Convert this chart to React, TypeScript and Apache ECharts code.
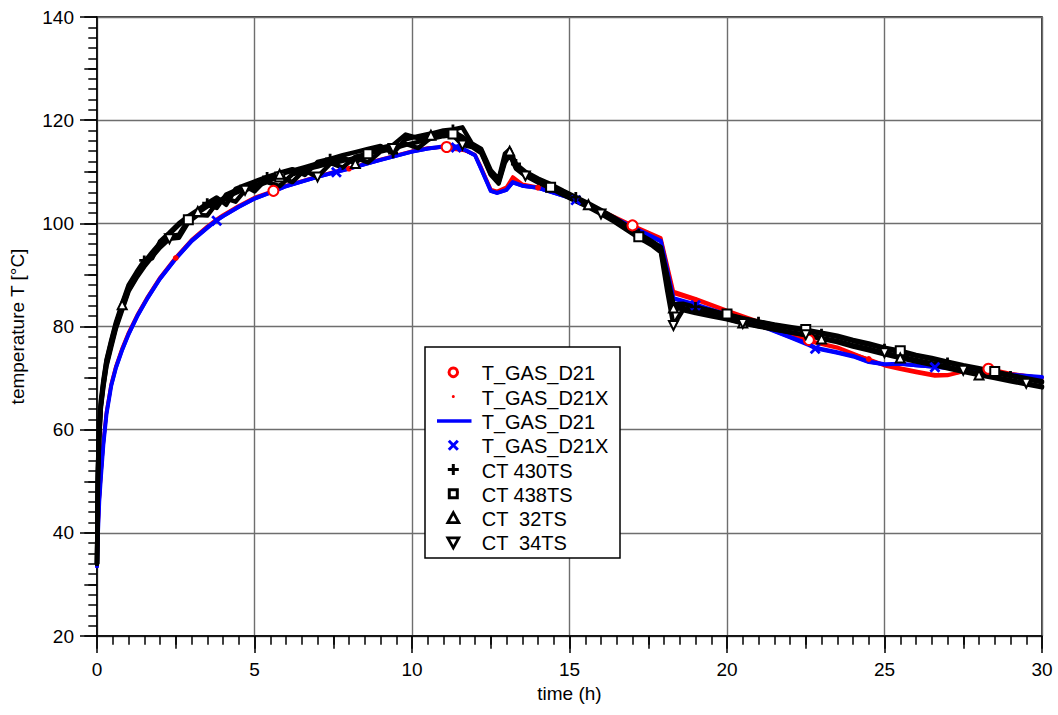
import React, { useEffect, useRef } from "react";
import * as echarts from "echarts";

// Time grid of the simulation runs (h)
const tSim = [0, 0.03, 0.07, 0.12, 0.2, 0.3, 0.45, 0.6, 0.8, 1.0, 1.3, 1.6, 2.0, 2.5, 3.0, 3.5, 3.8, 4.0, 4.5, 5.0, 5.6, 6.0, 7.0, 7.6, 8.0, 9.0, 10.0, 10.5, 11.1, 11.4, 11.7, 12.0, 12.2, 12.5, 12.7, 13.0, 13.2, 13.5, 14.0, 15.2, 16.0, 17.0, 17.9, 18.3, 19.0, 20.0, 21.0, 22.0, 22.6, 22.8, 23.5, 24.0, 24.5, 25.0, 25.5, 26.0, 26.6, 27.0, 27.6, 28.3, 29.0, 30.0];

// Run 1 (red)
const gasD21Red = [33.5, 40.3, 46.3, 51, 57.5, 63.4, 68.8, 72.3, 75.8, 78.8, 82.5, 85.7, 89.5, 93.4, 96.8, 99.4, 100.8, 101.6, 103.4, 105, 106.3, 107.3, 109.1, 110.1, 110.7, 112.4, 114, 114.6, 114.8, 114.3, 114.1, 113.3, 110.8, 106.6, 106.2, 107, 109, 107.6, 107, 104.7, 102.5, 99.6, 97.2, 86.8, 85.4, 83.1, 81, 78.6, 77.4, 77, 76, 74.8, 73.6, 72.4, 71.7, 71.1, 70.4, 70.5, 71.4, 71.8, 70.9, 70];
const gasD21XRed = [33.5, 40.1, 46.1, 50.8, 57.3, 63.2, 68.6, 72.2, 75.7, 78.7, 82.4, 85.6, 89.4, 93.3, 96.7, 99.3, 100.7, 101.5, 103.3, 104.9, 106.2, 107.2, 109, 110, 110.6, 112.3, 113.9, 114.5, 114.9, 114.4, 114, 113.2, 110.6, 106.5, 106.1, 106.8, 108.7, 107.5, 106.9, 104.6, 102.4, 99.5, 97, 86.4, 85.1, 82.9, 80.8, 78.4, 77.2, 76.8, 75.8, 74.7, 73.7, 72.6, 72, 71.4, 70.7, 70.7, 71.3, 71.6, 70.8, 70.1];

// Run 2 (blue)
const gasD21Blue = [33.5, 40, 46, 50.5, 57, 63, 68.5, 72, 75.5, 78.5, 82.3, 85.5, 89.3, 93.2, 96.6, 99.2, 100.6, 101.4, 103.2, 104.8, 106.2, 107.2, 109, 110, 110.6, 112.3, 113.9, 114.5, 115, 114.9, 114.2, 113.2, 110.5, 106.3, 105.9, 106.5, 108, 107.3, 106.9, 104.6, 102.4, 99.3, 96.6, 85.5, 84.3, 82.3, 80.4, 78, 76.6, 75.9, 75, 74.3, 73.2, 72.7, 72.8, 72.5, 72.2, 72, 71.6, 71.1, 70.7, 70.2];
const gasD21XBlue = [33.5, 39.8, 45.8, 50.3, 56.8, 62.8, 68.3, 71.8, 75.3, 78.3, 82.1, 85.3, 89.1, 93, 96.4, 99, 100.5, 101.3, 103.1, 104.7, 106.1, 107.1, 108.9, 109.9, 110.5, 112.2, 113.8, 114.4, 114.9, 114.7, 114.1, 113.1, 110.3, 106.2, 105.8, 106.4, 107.8, 107.2, 106.8, 104.5, 102.3, 99.2, 96.4, 85.3, 84.1, 82.1, 80.2, 77.8, 76.3, 75.7, 74.8, 74.1, 73, 72.6, 72.7, 72.4, 72.1, 71.9, 71.5, 71, 70.6, 70.1];

// Time grid of the thermocouple records (h)
const tMeas = [0, 0.03, 0.07, 0.12, 0.2, 0.3, 0.45, 0.6, 0.8, 1.0, 1.25, 1.5, 1.75, 2.0, 2.3, 2.6, 2.9, 3.2, 3.5, 3.8, 4.1, 4.4, 4.7, 5.0, 5.4, 5.8, 6.2, 6.6, 7.0, 7.4, 7.8, 8.2, 8.6, 9.0, 9.4, 9.8, 10.2, 10.6, 11.0, 11.3, 11.6, 11.9, 12.2, 12.5, 12.75, 12.95, 13.1, 13.3, 13.6, 14.0, 14.4, 14.8, 15.2, 15.6, 16.0, 16.4, 16.8, 17.2, 17.6, 17.9, 18.1, 18.3, 18.6, 19.0, 19.5, 20.0, 20.5, 21.0, 21.5, 22.0, 22.5, 23.0, 23.5, 24.0, 24.5, 25.0, 25.5, 26.0, 26.5, 27.0, 27.5, 28.0, 28.5, 29.0, 29.5, 30.0];

const ct430 = [34, 53, 60, 65.5, 69.5, 73.5, 77.3, 80.8, 84.5, 88, 90.5, 92.8, 93.2, 96.5, 98.2, 100, 101.4, 102.6, 103.9, 105, 103.6, 106.7, 107.4, 108.1, 109, 109.8, 110.5, 109.4, 111.9, 112.5, 113.2, 113.8, 114.4, 115, 113.6, 116.3, 116.9, 117.4, 118, 118.2, 118.6, 115.5, 114.4, 110.3, 108.6, 113.5, 114.3, 111.5, 110, 108.7, 107.6, 106.3, 105.1, 103.9, 102.6, 101.2, 99.6, 98, 96.6, 95.4, 90, 84.3, 84.4, 83.8, 83.1, 82.3, 81.5, 80.9, 80.3, 79.7, 79.2, 78.6, 78, 77.2, 76.5, 75.7, 75, 74.3, 73.7, 73, 72.3, 71.7, 71, 70.4, 69.8, 69.2];
const ct438 = [34, 51, 58.5, 64.5, 68.5, 72.6, 76.4, 79.9, 83.6, 87, 89.6, 92, 93.9, 95.7, 97.5, 97.8, 100.7, 102, 103.3, 104.2, 105.1, 105.9, 106.7, 107.3, 108.2, 109, 108, 110.4, 111, 111.7, 110.8, 112.9, 113.5, 114.1, 114.7, 115.4, 114.6, 116.6, 117.1, 117.3, 116.2, 115, 113.8, 109.6, 108, 112.2, 113.6, 110.8, 109.4, 108.1, 107, 105.7, 104.5, 103.3, 102, 100.6, 99, 97.4, 96, 94.8, 88.6, 83.4, 83.6, 83, 82.4, 82.4, 81.6, 81, 80.4, 79.9, 79.4, 78.8, 78.2, 77.4, 76.7, 75.9, 75.3, 74.5, 73.9, 73.2, 72.5, 71.9, 71.3, 70.6, 70, 69.4];
const ct32 = [34, 52.5, 59.5, 64.8, 69, 73.2, 77, 80.4, 84.2, 87.6, 90.2, 92.5, 94.4, 96.2, 97.9, 99.7, 101.1, 102.3, 103.6, 103, 105.6, 106.4, 107.2, 106.2, 108.7, 109.5, 110.2, 110.9, 111.6, 112.2, 112.8, 111.6, 114, 114.6, 115.2, 117.2, 116.5, 117.1, 117.6, 117.8, 116.8, 115.3, 114.1, 109.9, 108.3, 112.8, 114, 111.2, 109.8, 108.4, 107.3, 106, 104.8, 103.6, 102.3, 100.9, 99.3, 97.7, 96.3, 95.1, 89.3, 83.6, 83.5, 82.9, 82.2, 81.5, 80.7, 80.1, 79.5, 78.9, 78.3, 77.6, 77, 76.1, 75.4, 74.6, 73.9, 73.2, 72.6, 71.9, 71.2, 70.6, 70, 69.4, 68.8, 68.2];
const ct34 = [34, 50.5, 58, 64, 68.2, 72.3, 76, 79.6, 83.2, 86.8, 89.4, 91.6, 93.5, 95.3, 97, 97.2, 100.2, 101.6, 101.5, 103.9, 104.8, 104.2, 106.4, 107.1, 108, 107.2, 109.5, 110.2, 109, 111.5, 112.1, 112.7, 111.8, 113.9, 114.5, 115.2, 115.8, 116.4, 116.9, 117.1, 115.2, 114.8, 113.6, 109.4, 107.7, 111.8, 113.3, 110.6, 109.2, 107.9, 106.8, 105.5, 104.3, 103.1, 101.8, 100.4, 98.8, 97.2, 95.8, 94.4, 87, 80.2, 83.2, 82.6, 82, 81.4, 80.6, 80, 79.4, 78.9, 78.4, 77.8, 77.2, 76.4, 75.7, 74.9, 74.2, 73.5, 72.9, 72.2, 71.5, 70.9, 70.2, 69.6, 69, 68.4];

// Times at which each record carries its marker
const redCircleAt = [5.6, 11.1, 17.0, 22.6, 28.3];
const redDotAt = [2.5, 8.0, 14.0, 19.0, 24.5];
const blueCrossAt = [3.8, 7.6, 11.4, 15.2, 19.0, 22.8, 26.6];
const plusAt = [1.5, 3.5, 5.4, 7.4, 9.4, 11.3, 13.3, 15.2, 17.2, 19.0, 21.0, 23.0, 25.0, 27.0, 29.0];
const squareAt = [2.9, 5.8, 8.6, 11.3, 14.4, 17.2, 20.0, 22.5, 25.5, 28.5];
const upAt = [0.8, 3.2, 5.8, 8.2, 10.6, 13.1, 15.6, 18.3, 20.5, 23.0, 25.5, 28.0];
const downAt = [2.3, 4.7, 7.0, 9.4, 11.6, 13.6, 16.0, 18.3, 20.5, 22.5, 25.0, 27.5, 29.5];

const legendNames = ["T_GAS_D21", "T_GAS_D21X", "T_GAS_D21", "T_GAS_D21X", "CT 430TS", "CT 438TS", "CT  32TS", "CT  34TS"];

const FONT = "'Liberation Sans', Arial, Helvetica, sans-serif";
const PLUS = "path://M0,5L10,5M5,0L5,10";
const CROSS = "path://M0,0L10,10M10,0L0,10";

function lineSeries(
  name: string,
  t: number[],
  v: number[],
  color: string,
  width: number,
  symbol: string,
  markAt: number[],
  size: number,
  extra: Record<string, unknown> = {}
) {
  return {
    type: "line",
    name,
    data: t.map((x, i) => [x, v[i]]),
    xAxisIndex: 0,
    yAxisIndex: 0,
    silent: true,
    showSymbol: true,
    showAllSymbol: true,
    symbol: (val: number[]) => (markAt.includes(val[0]) ? symbol : "none"),
    symbolSize: size,
    lineStyle: { color, width, join: "round", cap: "round" },
    itemStyle: { color, borderColor: color, borderWidth: 2.8 },
    ...extra,
  };
}

export default function App() {
  const ref = useRef<HTMLDivElement>(null);

  useEffect(() => {
    if (!ref.current) return;
    const chart = echarts.init(ref.current, undefined, { renderer: "svg" });

    const LX = 453.3;
    const TX = 481.7;
    const Y0 = 372.3;
    const DY = 24.3;
    const rowY = (i: number) => Y0 + i * DY;

    const legendGraphics: any[] = [
      {
        type: "rect",
        shape: { x: 425, y: 347, width: 195, height: 211 },
        style: { fill: "#fff", stroke: "#000", lineWidth: 1.5 },
        z: 100,
      },
      { type: "circle", shape: { cx: LX, cy: rowY(0), r: 4.3 }, style: { fill: "#fff", stroke: "#ff0000", lineWidth: 3 }, z: 101 },
      { type: "circle", shape: { cx: LX, cy: rowY(1), r: 1.5 }, style: { fill: "#ff0000" }, z: 101 },
      { type: "line", shape: { x1: 437, y1: rowY(2), x2: 471.5, y2: rowY(2) }, style: { stroke: "#0000ff", lineWidth: 3.5 }, z: 101 },
      { type: "line", shape: { x1: LX - 4.5, y1: rowY(3) - 4.5, x2: LX + 4.5, y2: rowY(3) + 4.5 }, style: { stroke: "#0000ff", lineWidth: 3 }, z: 101 },
      { type: "line", shape: { x1: LX + 4.5, y1: rowY(3) - 4.5, x2: LX - 4.5, y2: rowY(3) + 4.5 }, style: { stroke: "#0000ff", lineWidth: 3 }, z: 101 },
      { type: "line", shape: { x1: LX - 5.5, y1: rowY(4), x2: LX + 5.5, y2: rowY(4) }, style: { stroke: "#000", lineWidth: 3 }, z: 101 },
      { type: "line", shape: { x1: LX, y1: rowY(4) - 5.5, x2: LX, y2: rowY(4) + 5.5 }, style: { stroke: "#000", lineWidth: 3 }, z: 101 },
      { type: "rect", shape: { x: LX - 4, y: rowY(5) - 4, width: 8, height: 8 }, style: { fill: "#fff", stroke: "#000", lineWidth: 3 }, z: 101 },
      {
        type: "polygon",
        shape: { points: [[LX, rowY(6) - 5.5], [LX + 5.5, rowY(6) + 4.5], [LX - 5.5, rowY(6) + 4.5]] },
        style: { fill: "#fff", stroke: "#000", lineWidth: 2.8 },
        z: 101,
      },
      {
        type: "polygon",
        shape: { points: [[LX - 5.5, rowY(7) - 4.5], [LX + 5.5, rowY(7) - 4.5], [LX, rowY(7) + 5.5]] },
        style: { fill: "#fff", stroke: "#000", lineWidth: 2.8 },
        z: 101,
      },
      ...legendNames.map((text, i) => ({
        type: "text",
        x: TX,
        y: rowY(i) + 1,
        z: 101,
        style: { text, fontSize: 20, fontFamily: FONT, fill: "#000", verticalAlign: "middle", align: "left" },
      })),
    ];

    const tickColor = "#000";
    const gridColor = "#6e6e6e";

    chart.setOption({
      animation: false,
      backgroundColor: "#fff",
      textStyle: { fontFamily: FONT },
      grid: {
        left: 96,
        right: 16,
        top: 17,
        bottom: 79,
        show: true,
        borderColor: "#000",
        borderWidth: 1.5,
        backgroundColor: "transparent",
      },
      xAxis: [
        {
          type: "value",
          min: 0,
          max: 30,
          interval: 5,
          position: "bottom",
          name: "time (h)",
          nameLocation: "middle",
          nameGap: 44,
          nameTextStyle: { fontSize: 19, color: "#000", fontFamily: FONT },
          axisLine: { show: true, onZero: false, lineStyle: { color: "#000", width: 1.5 } },
          axisTick: { show: true, inside: false, length: 17, lineStyle: { color: tickColor, width: 1.5 } },
          minorTick: { show: true, splitNumber: 10, length: 8.7, lineStyle: { color: tickColor, width: 1.5 } },
          axisLabel: { fontSize: 19, color: "#000", margin: 24, fontFamily: FONT },
          splitLine: { show: true, lineStyle: { color: gridColor, width: 1.4 } },
          minorSplitLine: { show: false },
        },
        {
          type: "value",
          min: 0,
          max: 30,
          interval: 2.5,
          position: "bottom",
          axisLine: { show: false },
          axisTick: { show: true, inside: false, length: 12.7, lineStyle: { color: tickColor, width: 1.5 } },
          axisLabel: { show: false },
          splitLine: { show: false },
        },
      ],
      yAxis: [
        {
          type: "value",
          min: 20,
          max: 140,
          interval: 20,
          position: "left",
          name: "temperature T [°C]",
          nameLocation: "middle",
          nameGap: 70,
          nameTextStyle: { fontSize: 19, color: "#000", fontFamily: FONT },
          axisLine: { show: true, onZero: false, lineStyle: { color: "#000", width: 1.5 } },
          axisTick: { show: true, inside: false, length: 17, lineStyle: { color: tickColor, width: 1.5 } },
          minorTick: { show: true, splitNumber: 10, length: 8.7, lineStyle: { color: tickColor, width: 1.5 } },
          axisLabel: { fontSize: 19, color: "#000", margin: 23, fontFamily: FONT },
          splitLine: { show: true, lineStyle: { color: gridColor, width: 1.4 } },
        },
        {
          type: "value",
          min: 20,
          max: 140,
          interval: 10,
          position: "left",
          axisLine: { show: false },
          axisTick: { show: true, inside: false, length: 12.7, lineStyle: { color: tickColor, width: 1.5 } },
          axisLabel: { show: false },
          splitLine: { show: false },
        },
      ],
      series: [
        lineSeries("T_GAS_D21", tSim, gasD21Red, "#ff0000", 3.5, "emptyCircle", redCircleAt, 10),
        lineSeries("T_GAS_D21X", tSim, gasD21XRed, "#ff0000", 3, "circle", redDotAt, 3),
        lineSeries("T_GAS_D21 ", tSim, gasD21Blue, "#0000ff", 4, "none", [], 0),
        lineSeries("T_GAS_D21X ", tSim, gasD21XBlue, "#0000ff", 3, CROSS, blueCrossAt, 9),
        lineSeries("CT 430TS", tMeas, ct430, "#000", 4.5, PLUS, plusAt, 10),
        lineSeries("CT 438TS", tMeas, ct438, "#000", 4.5, "emptyRect", squareAt, 9),
        lineSeries("CT  32TS", tMeas, ct32, "#000", 4.5, "emptyTriangle", upAt, 9),
        lineSeries("CT  34TS", tMeas, ct34, "#000", 4.5, "emptyTriangle", downAt, 9, { symbolRotate: 180 }),
      ],
      graphic: legendGraphics,
    });

    return () => chart.dispose();
  }, []);

  return (
    <div
      ref={ref}
      style={{ position: "absolute", left: 0, top: 0, width: 1058, height: 715, background: "#fff" }}
    />
  );
}
